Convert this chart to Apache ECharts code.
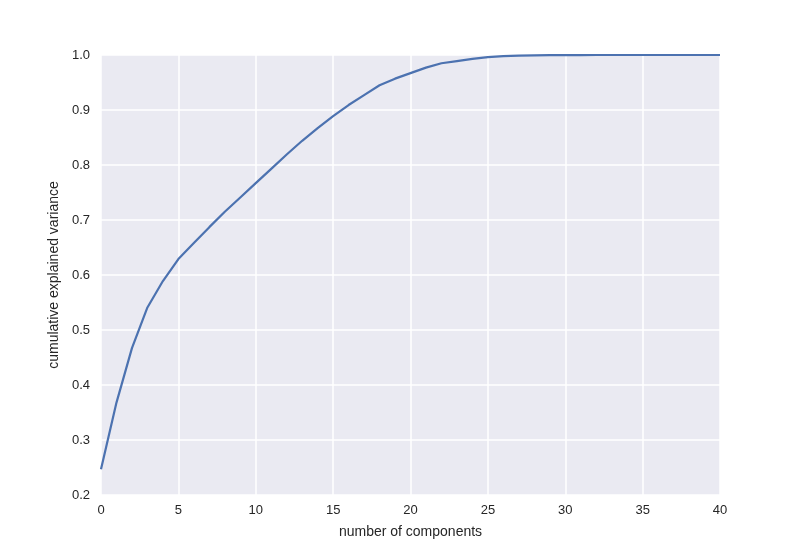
<!DOCTYPE html>
<html>
<head>
<meta charset="utf-8">
<script src="https://cdn.jsdelivr.net/npm/echarts@6/dist/echarts.min.js"></script>
<style>html,body{margin:0;padding:0;background:#fff}#c{width:800px;height:550px}</style>
</head>
<body>
<div id="c"></div>
<script>
var components = [0,1,2,3,4,5,6,7,8,9,10,11,12,13,14,15,16,17,18,19,20,21,22,23,24,25,26,27,28,29,30,31,32,33,34,35,36,37,38,39,40];
var cumVariance = [0.247,0.368,0.467,0.541,0.589,0.629,0.658,0.687,0.715,0.741,0.767,0.793,0.819,0.844,0.867,0.889,0.909,0.927,0.945,0.957,0.967,0.977,0.985,0.989,0.993,0.996,0.998,0.999,0.9993,0.9996,0.9998,0.9999,1.0,1.0,1.0,1.0,1.0,1.0,1.0,1.0,1.0];
var xTitle = 'number of components';
var yTitle = 'cumulative explained variance';

var chart = echarts.init(document.getElementById('c'), null, {renderer:'canvas'});
var font = 'Liberation Sans, Arial, sans-serif';
chart.setOption({
  animation: false,
  backgroundColor: '#ffffff',
  grid: {left: 101, right: 80, top: 55, bottom: 55, show: true, backgroundColor: '#EAEAF2', borderWidth: 0},
  xAxis: {
    type: 'value', min: 0, max: 40, interval: 5,
    name: xTitle, nameLocation: 'middle', nameGap: 30,
    nameTextStyle: {fontFamily: font, fontSize: 14, color: '#262626'},
    axisLine: {show: false}, axisTick: {show: false},
    axisLabel: {fontFamily: font, fontSize: 13, color: '#262626', margin: 9},
    splitLine: {show: true, lineStyle: {color: '#ffffff', width: 1.5}}
  },
  yAxis: {
    type: 'value', min: 0.2, max: 1.0, interval: 0.1,
    name: yTitle, nameLocation: 'middle', nameGap: 33,
    nameTextStyle: {fontFamily: font, fontSize: 14, color: '#262626'},
    axisLine: {show: false}, axisTick: {show: false},
    axisLabel: {fontFamily: font, fontSize: 13, color: '#262626', margin: 11,
      formatter: function(v){ return v.toFixed(1); }},
    splitLine: {show: true, lineStyle: {color: '#ffffff', width: 1.5}}
  },
  series: [{
    type: 'line',
    data: components.map(function(c, i){ return [c, cumVariance[i]]; }),
    showSymbol: false,
    lineStyle: {color: '#4C72B0', width: 2.2},
    itemStyle: {color: '#4C72B0'}
  }]
});
</script>
</body>
</html>
